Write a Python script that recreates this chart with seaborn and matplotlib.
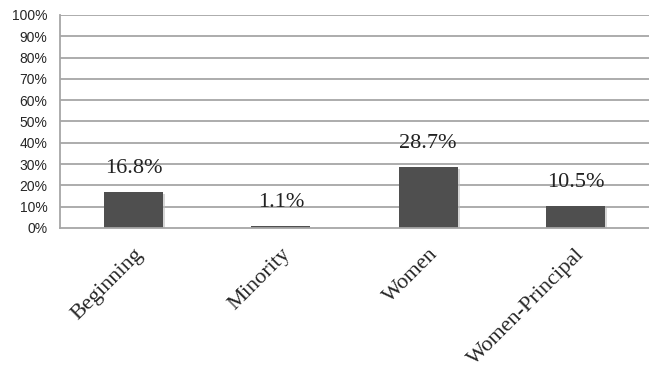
import matplotlib
matplotlib.use("Agg")
import matplotlib.pyplot as plt
import matplotlib.patheffects as pe
import matplotlib.transforms as mtrans
import seaborn as sns
import pandas as pd
import numpy as np

categories = ["Beginning", "Minority", "Women", "Women-Principal"]
values = [16.8, 1.1, 28.7, 10.5]
value_labels = ["16.8%", "1.1%", "28.7%", "10.5%"]
yticks = [0, 10, 20, 30, 40, 50, 60, 70, 80, 90, 100]

sns.set_style("white")
df = pd.DataFrame({"cat": categories, "val": values})

fig = plt.figure(figsize=(6.49, 3.73), dpi=100)
ax = fig.add_axes([0.0925, 0.389, 0.9075, 0.571])
sns.barplot(data=df, x="cat", y="val", color="#4f4f4f", saturation=1, width=0.4, ax=ax)

grid_c = "#a6a6a6"
for p in ax.patches:
    p.set_edgecolor("none")
    p.set_path_effects([pe.SimplePatchShadow(offset=(1.5, -1.5), shadow_rgbFace="#bbbbbb", alpha=0.6), pe.Normal()])

ax.set_ylim(0, 100)
ax.set_xlim(-0.5, 3.5)
ax.set_yticks(yticks)
ax.set_yticklabels([f"{t}%" for t in yticks], fontsize=10, family="Liberation Sans")
for t in yticks[1:]:
    ax.axhline(t, color=grid_c, lw=1.3, zorder=0)

ax.set_xticks(range(len(categories)))
ax.set_xticklabels(categories, rotation=45, ha="right", rotation_mode="anchor",
                   fontsize=16, family="Liberation Serif")
offset = mtrans.ScaledTranslation(-5 / 100, -2 / 100, fig.dpi_scale_trans)
for lbl in ax.get_xticklabels():
    lbl.set_transform(lbl.get_transform() + offset)
ax.set_xticks([-0.5, 0.5, 1.5, 2.5], minor=True)
ax.tick_params(axis="x", which="major", length=0, pad=12)
ax.tick_params(axis="x", which="minor", length=5, width=1.2, color=grid_c, direction="out")
ax.tick_params(axis="y", length=5, width=1.2, color=grid_c, direction="out", pad=4)

for i, (v, lab) in enumerate(zip(values, value_labels)):
    ax.annotate(lab, (i, v), xytext=(0, 10), textcoords="offset points",
                ha="center", va="bottom", fontsize=16, family="Liberation Serif", color="#222222")

ax.set_xlabel("")
ax.set_ylabel("")
for s in ["top", "right"]:
    ax.spines[s].set_visible(False)
ax.spines["left"].set_color(grid_c)
ax.spines["left"].set_linewidth(1.3)
ax.spines["bottom"].set_color(grid_c)
ax.spines["bottom"].set_linewidth(1.3)

fig.savefig("out.png", dpi=100)
